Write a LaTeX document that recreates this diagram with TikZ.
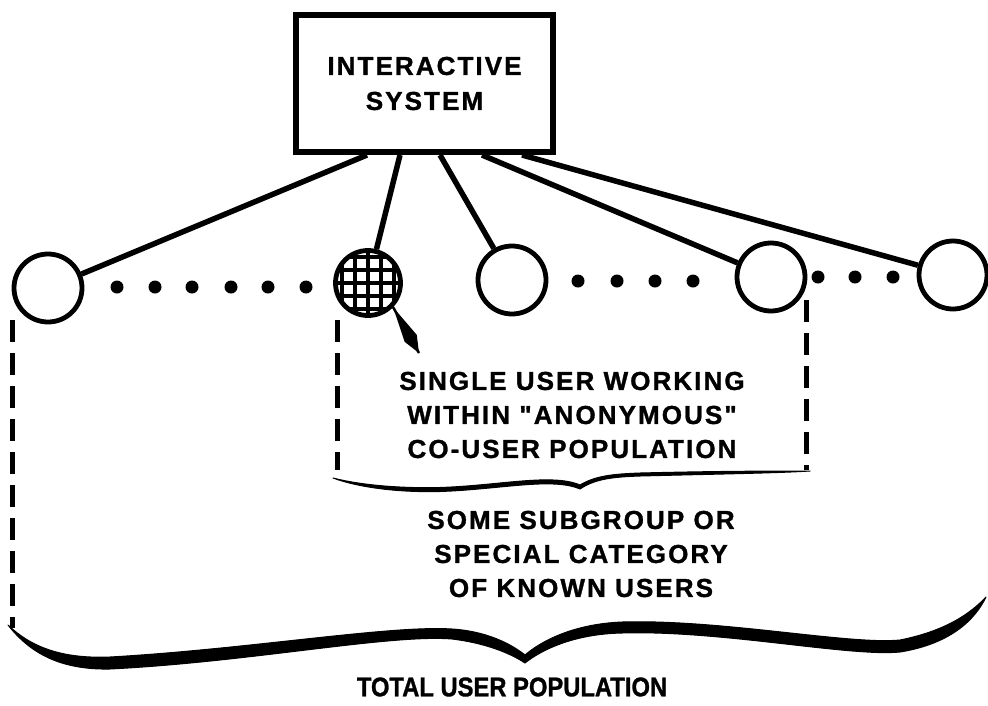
\documentclass[tikz,border=0pt]{standalone}
\usepackage{fontspec}
\setmainfont{Liberation Sans}
\newfontfamily\lblfont[LetterSpace=8, BoldFeatures={FakeBold=1.2}]{Liberation Sans}
\newfontfamily\plainfont[BoldFeatures={FakeBold=1.2}]{Liberation Sans}
\usetikzlibrary{calc,arrows.meta}
\begin{document}
\begin{tikzpicture}[x=1pt,y=-1pt,
  lbl/.style={font=\lblfont\fontsize{26}{34}\selectfont\bfseries, align=center, inner sep=0pt},
  usr/.style={circle, draw, line width=4.8pt, minimum size=68pt, inner sep=0pt},
  link/.style={line width=5.5pt},
  dotmark/.style={circle, fill, inner sep=0pt, minimum size=13pt},
  dashline/.style={line width=5pt, dash pattern=on 22pt off 11pt},
  bracefill/.style={fill=black, draw=black, line width=1pt, line join=round}]
\useasboundingbox (0,0) rectangle (988,705);

% system box
\node[draw, line width=6pt, minimum width=257pt, minimum height=137pt,
      lbl, font=\lblfont\fontsize{26}{35}\selectfont\bfseries] (sys) at (424.5,83.5) {INTERACTIVE\\SYSTEM};

% user circles
\node[usr] (c1) at (48,288) {};
\node[usr, minimum size=65pt, path picture={
    \foreach \d in {-26,-13,0,13,26} {
      \draw[line width=3.6pt] ([xshift=\d pt]path picture bounding box.north) -- ([xshift=\d pt]path picture bounding box.south);
      \draw[line width=3.6pt] ([yshift=\d pt]path picture bounding box.west) -- ([yshift=\d pt]path picture bounding box.east);
    }}] (c2) at (368,283) {};
\node[usr] (c3) at (512,280) {};
\node[usr] (c4) at (771,277) {};
\node[usr] (c5) at (953,275) {};

% connectors from the system
\draw[link] ($(sys.south west)+(74,0)$) -- (c1);
\draw[link] ($(sys.south west)+(107,0)$) -- (c2);
\draw[link] ($(sys.south west)+(147,0)$) -- (c3);
\draw[link] ($(sys.south west)+(189,0)$) -- (c4);
\draw[link] ($(sys.south west)+(229,0)$) -- (c5);

% ellipsis dots
\foreach \x [count=\i] in {117,155,192,231,268,306} \node[dotmark] (da\i) at (\x,287) {};
\foreach \x [count=\i] in {578,617,655,693} \node[dotmark] (db\i) at (\x,281) {};
\foreach \x [count=\i] in {818,855,893} \node[dotmark] (dc\i) at (\x,277) {};

% pointer to the single user
\coordinate (ptr) at (419,353);
\coordinate (ptip) at (c2.-44);
\coordinate (pmid) at ($(ptip)!0.68!(ptr)$);
\draw[line width=2.5pt] (ptip) -- (ptr);
\fill (ptip) -- ($(pmid)!7pt!90:(ptr)$) -- (ptr) -- ($(pmid)!7pt!-90:(ptr)$) -- cycle;

% dashed bounds
\draw[dashline] (12,320) -- (12,628);
\draw[dashline] (337,320) -- (337,470);
\draw[dashline] (806,300) -- (806,470);

% inner brace
\fill[bracefill]
  (333,478) .. controls (360,488) and (400,492.5) .. (440,491.5)
  .. controls (500,489.5) and (552,477) .. (580,489)
  .. controls (595,479) and (612,477) .. (640,476)
  .. controls (720,474) and (780,473) .. (810,471)
  .. controls (780,471) and (720,471) .. (640,473)
  .. controls (612,474) and (595,476) .. (580,485)
  .. controls (552,473) and (500,485.5) .. (440,487.5)
  .. controls (400,488.5) and (360,485) .. (333,478) -- cycle;

% outer brace
\fill[bracefill]
  (8,625) .. controls (30,653) and (60,670) .. (110,669)
  .. controls (250,662) and (390,634) .. (452,639)
  .. controls (485,643) and (510,653) .. (525,663)
  .. controls (540,651) and (572,634) .. (622,633)
  .. controls (720,630) and (850,657) .. (900,652)
  .. controls (950,644) and (975,620) .. (986,597)
  .. controls (970,614) and (945,631) .. (900,640)
  .. controls (850,645) and (720,619) .. (622,622)
  .. controls (572,624) and (540,642) .. (525,655)
  .. controls (510,643) and (485,631) .. (452,629)
  .. controls (390,625) and (250,649) .. (110,657)
  .. controls (60,659) and (30,646) .. (8,625) -- cycle;

% labels
\node[lbl] (single) at (572,415) {SINGLE USER WORKING\\WITHIN "ANONYMOUS"\\CO-USER POPULATION};
\node[lbl] (sub) at (581,554) {SOME SUBGROUP OR\\SPECIAL CATEGORY\\OF KNOWN USERS};
\node[inner sep=0pt, font=\plainfont\fontsize{27}{30}\selectfont\bfseries] (total) at (512,687) {\scalebox{0.88}[1]{TOTAL USER POPULATION}};
\end{tikzpicture}
\end{document}
